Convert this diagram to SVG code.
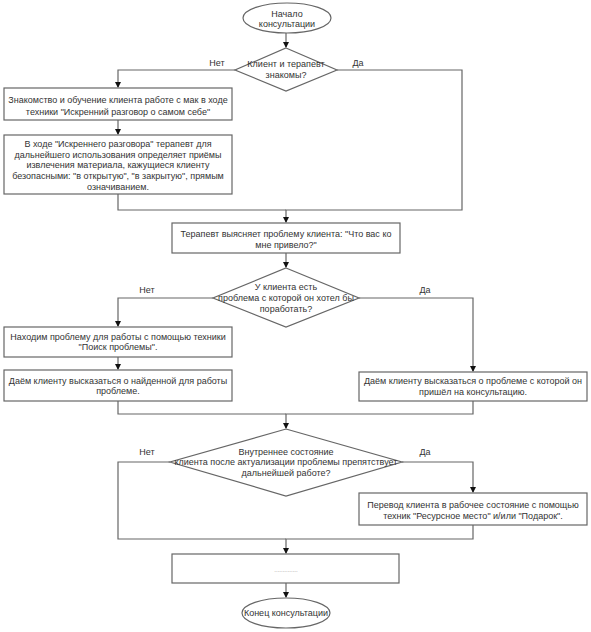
<svg xmlns="http://www.w3.org/2000/svg" width="591" height="632" viewBox="0 0 591 632">
<style>
.n{fill:#fff;stroke:#666;stroke-width:1.2}
.c{fill:none;stroke:#666;stroke-width:1.2}
text{font-family:"Liberation Sans",Arial,sans-serif;font-size:9px;fill:#333;text-anchor:middle}
</style>
<defs>
<marker id="a" markerWidth="6" markerHeight="6" refX="5" refY="3" orient="auto" markerUnits="userSpaceOnUse"><path d="M0,0 L6,3 L0,6 z" fill="#111"/></marker>
</defs>
<rect width="591" height="632" fill="#fff"/>
<g id="connectors">
<path class="c" d="M286,33 V47" marker-end="url(#a)"/>
<path class="c" d="M235,70 H118 V87" marker-end="url(#a)"/>
<path class="c" d="M118,120 V134" marker-end="url(#a)"/>
<path class="c" d="M118,194 V210 H286"/>
<path class="c" d="M337,70 H462 V210 H286 V222" marker-end="url(#a)"/>
<path class="c" d="M286,253 V267" marker-end="url(#a)"/>
<path class="c" d="M213,298 H118 V326" marker-end="url(#a)"/>
<path class="c" d="M118,357 V369" marker-end="url(#a)"/>
<path class="c" d="M118,401 V414 H286"/>
<path class="c" d="M359,298 H473 V371" marker-end="url(#a)"/>
<path class="c" d="M473,401 V414 H286 V428" marker-end="url(#a)"/>
<path class="c" d="M170,462 H118 V539 H286"/>
<path class="c" d="M402,462 H473 V492" marker-end="url(#a)"/>
<path class="c" d="M473,525 V539 H286 V553" marker-end="url(#a)"/>
<path class="c" d="M286,583 V597" marker-end="url(#a)"/>
<text x="217" y="66">Нет</text>
<text x="358" y="66">Да</text>
<text x="147" y="293">Нет</text>
<text x="425" y="293">Да</text>
<text x="147" y="455">Нет</text>
<text x="425" y="455">Да</text>
</g>
<g id="start">
<ellipse class="n" cx="287" cy="18" rx="44" ry="15"/>
<text x="287" y="17">Начало</text>
<text x="287" y="27">консультации</text>
</g>
<g id="d1">
<polygon class="n" points="286,48 337,70 286,91 235,70"/>
<text x="286" y="67">Клиент и терапевт</text>
<text x="286" y="78">знакомы?</text>
</g>
<g id="b1">
<rect class="n" x="4" y="88" width="228" height="32"/>
<text x="118" y="103">Знакомство и обучение клиента работе с мак в ходе</text>
<text x="118" y="115">техники "Искренний разговор о самом себе"</text>
</g>
<g id="b2">
<rect class="n" x="4" y="135" width="228" height="59"/>
<text x="118" y="147">В ходе "Искреннего разговора" терапевт для</text>
<text x="118" y="158">дальнейшего использования определяет приёмы</text>
<text x="118" y="168">извлечения материала, кажущиеся клиенту</text>
<text x="118" y="179">безопасными: "в открытую", "в закрытую", прямым</text>
<text x="118" y="190">означиванием.</text>
</g>
<g id="b3">
<rect class="n" x="172" y="223" width="228" height="30"/>
<text x="286" y="237">Терапевт выясняет проблему клиента: "Что вас ко</text>
<text x="286" y="248">мне привело?"</text>
</g>
<g id="d2">
<polygon class="n" points="286,268 359,298 286,327 213,298"/>
<text x="286" y="290">У клиента есть</text>
<text x="286" y="301">проблема с которой он хотел бы</text>
<text x="286" y="312">поработать?</text>
</g>
<g id="b4">
<rect class="n" x="4" y="327" width="228" height="30"/>
<text x="118" y="340">Находим проблему для работы с помощью техники</text>
<text x="118" y="350">"Поиск проблемы".</text>
</g>
<g id="b5">
<rect class="n" x="4" y="370" width="228" height="31"/>
<text x="118" y="384">Даём клиенту высказаться о найденной для работы</text>
<text x="118" y="394">проблеме.</text>
</g>
<g id="b6">
<rect class="n" x="359" y="372" width="228" height="29"/>
<text x="473" y="384">Даём клиенту высказаться о проблеме с которой он</text>
<text x="473" y="395">пришёл на консультацию.</text>
</g>
<g id="d3">
<polygon class="n" points="286,429 402,462 286,496 170,462"/>
<text x="286" y="455">Внутреннее состояние</text>
<text x="286" y="465">клиента после актуализации проблемы препятствует</text>
<text x="286" y="476">дальнейшей работе?</text>
</g>
<g id="b7">
<rect class="n" x="359" y="493" width="228" height="32"/>
<text x="473" y="508">Перевод клиента в рабочее состояние с помощью</text>
<text x="473" y="519">техник "Ресурсное место" и/или "Подарок".</text>
</g>
<g id="b8">
<rect class="n" x="172" y="554" width="227" height="29"/>
<text x="286" y="572" style="font-size:6px;fill:#888">..............</text>
</g>
<g id="end">
<ellipse class="n" cx="286" cy="613" rx="44" ry="15"/>
<text x="286" y="616">Конец консультации</text>
</g>
</svg>
